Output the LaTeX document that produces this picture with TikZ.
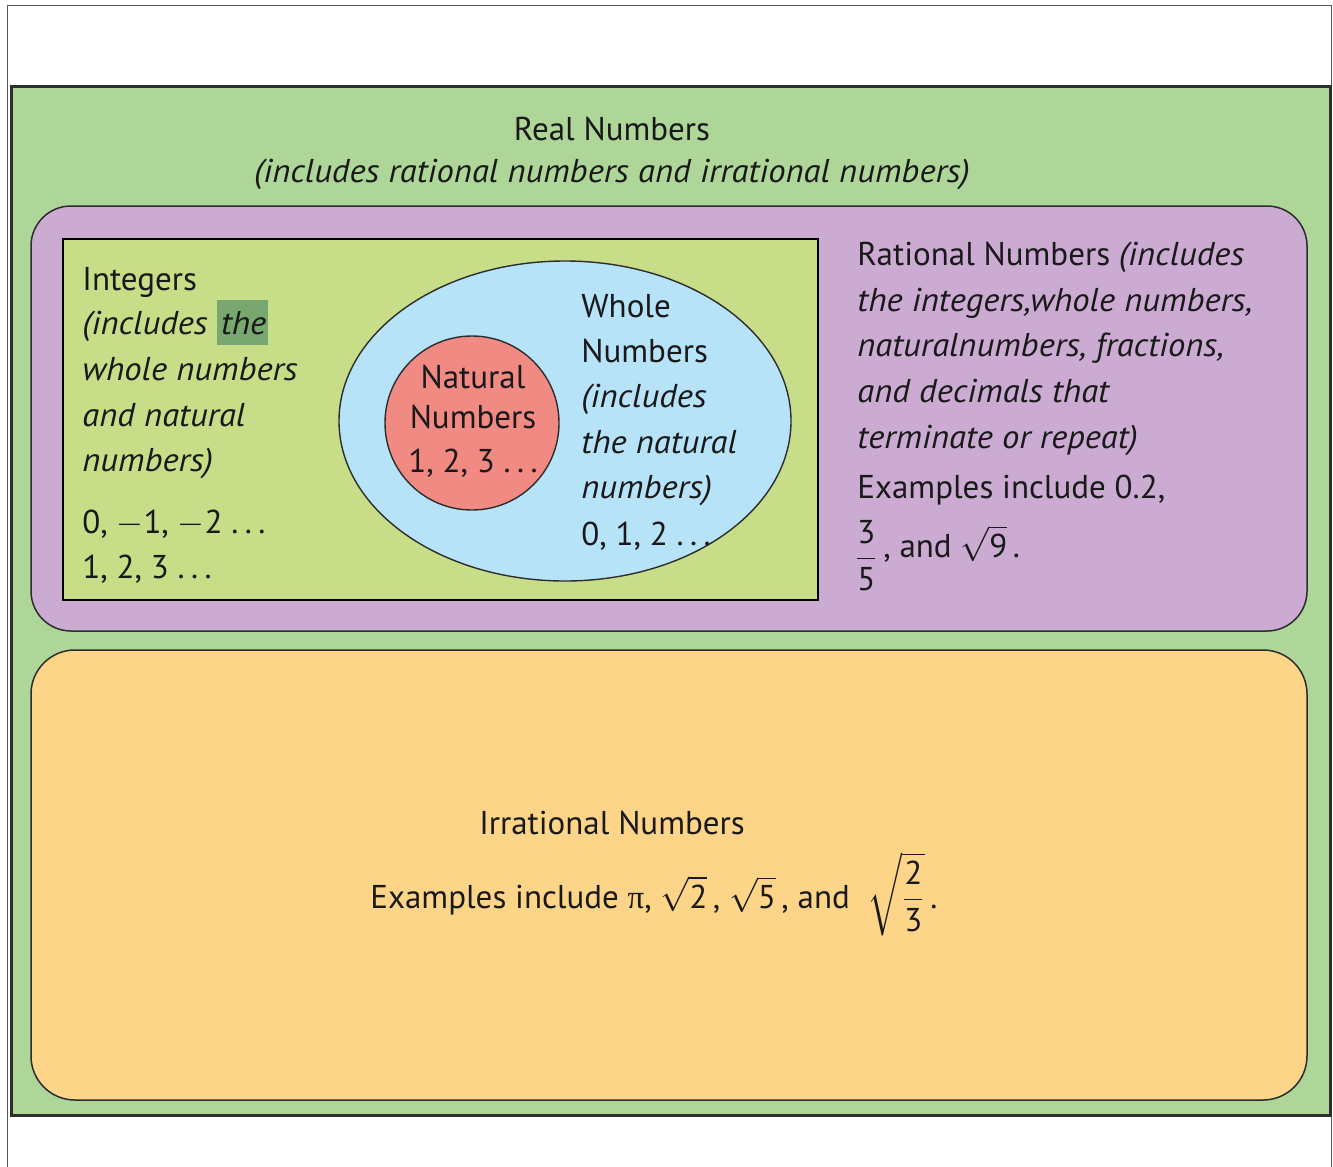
\documentclass[tikz,border=0pt]{standalone}
\usepackage{amsmath}
\usepackage{fontspec}
\setmainfont{PT Sans}[ItalicFeatures={FakeStretch=1.05}]
\newfontfamily\greekfont{Liberation Serif}
\definecolor{realg}{RGB}{173,214,152}
\definecolor{ratp}{RGB}{203,171,210}
\definecolor{intg}{RGB}{199,221,135}
\definecolor{hlg}{RGB}{120,168,112}
\definecolor{wblue}{RGB}{183,227,248}
\definecolor{natr}{RGB}{242,138,132}
\definecolor{irro}{RGB}{253,213,136}
\definecolor{edge}{RGB}{45,45,45}
\newcommand\bodyfont{\fontsize{16.5}{22.75}\selectfont}
\newcommand\hlword[1]{{\setlength{\fboxsep}{0pt}\colorbox{hlg}{\kern2pt\rule[-5.5pt]{0pt}{22.5pt}#1\kern1pt}}}
\newcommand\tx[1]{\text{#1}}
\newcommand\sdots{.\kern3.2pt.\kern3.2pt.}
\tikzset{
  txt/.style={anchor=base west, inner sep=0pt, font=\bodyfont, text=black!90},
  ctxt/.style={anchor=base, inner sep=0pt, font=\bodyfont, text=black!90},
}
\begin{document}
\begin{tikzpicture}[x=0.5pt,y=-0.5pt]
\useasboundingbox (0,0) rectangle (1333,1167);
% outer white frame
\draw[gray!70!black, line width=0.5pt] (7,1167) -- (7,5) -- (1331,5) -- (1331,1167);
% real numbers
\draw[edge, line width=1.5pt, fill=realg] (11,86) rectangle (1330,1115);
% rational numbers
\draw[edge, line width=0.75pt, fill=ratp, rounded corners=20pt] (31,206) rectangle (1307,631);
% integers
\draw[black, line width=1.2pt, fill=intg] (63,239) rectangle (818,600);
% whole numbers
\draw[edge, line width=0.7pt, fill=wblue] (565,421) ellipse [x radius=113pt, y radius=80pt];
% natural numbers
\draw[edge, line width=0.7pt, fill=natr] (472,423) circle [radius=43.5pt];
% irrational numbers
\draw[edge, line width=0.75pt, fill=irro, rounded corners=22pt] (31,650) rectangle (1307,1100);

% texts: real
\node[ctxt] (realt) at (612,140) {Real Numbers};
\node[ctxt] (reals) at (612,182) {\itshape (includes rational numbers and irrational numbers)};
% integers
\node[txt] (int1) at (82,290) {Integers};
\node[txt] (int2) at (82,334) {\itshape (includes \hlword{the}};
\node[txt] (int3) at (82,380) {\itshape whole numbers};
\node[txt] (int4) at (82,426) {\itshape and natural};
\node[txt] (int5) at (82,471) {\itshape numbers)};
\node[txt] (int6) at (82,533) {0, $-$1, $-$2 \sdots};
\node[txt] (int7) at (82,578) {1, 2, 3 \sdots};
% whole
\node[txt] (wh1) at (581,317) {Whole};
\node[txt] (wh2) at (581,362) {Numbers};
\node[txt] (wh3) at (581,407) {\itshape (includes};
\node[txt] (wh4) at (581,453) {\itshape the natural};
\node[txt] (wh5) at (581,498) {\itshape numbers)};
\node[txt] (wh6) at (581,545) {0, 1, 2 \sdots};
% natural
\node[ctxt] (na1) at (473,388) {Natural};
\node[ctxt] (na2) at (473,428) {Numbers};
\node[ctxt] (na3) at (473,472) {1, 2, 3 \sdots};
% rational
\node[txt] (ra1) at (857,265) {Rational Numbers \textit{(includes}};
\node[txt] (ra2) at (857,311) {\itshape the integers,whole numbers,};
\node[txt] (ra3) at (857,356) {\itshape naturalnumbers, fractions,};
\node[txt] (ra4) at (857,402) {\itshape and decimals that};
\node[txt] (ra5) at (857,448) {\itshape terminate or repeat)};
\node[txt] (ra6) at (857,498) {Examples include 0.2,};
\node[txt] (ra7) at (857,557) {\kern-1.2pt\raisebox{-5pt}[11pt][14pt]{$\dfrac{\tx{3}}{\tx{5}}$}\,, and $\sqrt{\tx{9}}$\,.};
% irrational
\node[ctxt] (ir1) at (612,834) {Irrational Numbers};
\node[txt] (ir2) at (370,908) {Examples include {\greekfont π}, $\sqrt{\tx{2}}$\,, $\sqrt{\tx{5}}$\,, and\ \ $\sqrt{\dfrac{\tx{2}}{\tx{3}}}$\,.};
\end{tikzpicture}
\end{document}
